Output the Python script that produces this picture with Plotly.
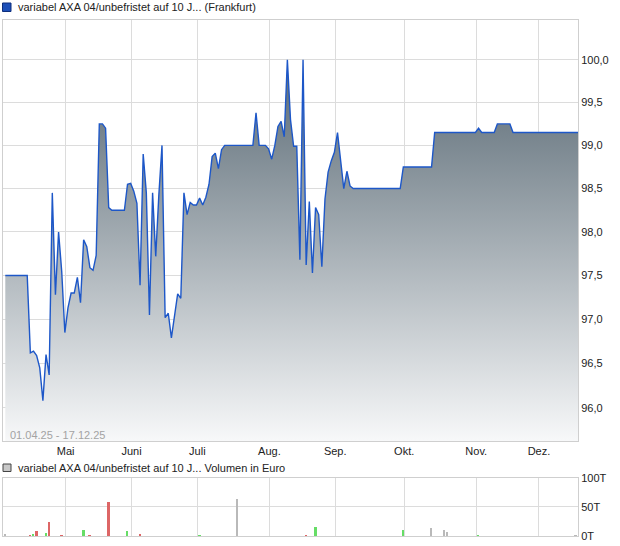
import math
import pandas as pd
import plotly.graph_objects as go

# ---------------- data ----------------
holidays = ["2025-04-18", "2025-04-21", "2025-05-01"]
trade_days = pd.bdate_range("2025-04-01", "2025-12-17", freq="C", holidays=holidays)
close_time = trade_days + pd.Timedelta(hours=17, minutes=30)

price = [
    97.50, 97.50, 97.50, 97.50, 97.50, 97.50, 97.50, 97.50,            # Apr 1-10
    96.62, 96.64, 96.59, 96.45, 96.08, 96.60, 96.37, 98.45, 97.28,     # Apr 11-25
    98.00, 97.55, 96.85,                                               # Apr 28-30
    97.13, 97.30, 97.30, 97.48, 97.19, 97.91, 97.83, 97.59, 97.56,     # May
    97.73, 99.25, 99.25, 99.20, 98.28, 98.25, 98.25, 98.25, 98.25,
    98.25, 98.55, 98.56,
    98.47, 98.33, 97.39, 98.90, 98.45, 97.05, 98.45, 97.72, 98.43,     # June
    99.00, 97.02, 97.07, 96.79, 97.07, 97.29, 97.24, 98.45, 98.20,
    98.34, 98.31, 98.31,
    98.39, 98.31, 98.40, 98.55, 98.87, 98.91, 98.73, 98.95, 99.00,     # July
    99.00, 99.00, 99.00, 99.00, 99.00, 99.00, 99.00, 99.00, 99.00,
    99.38, 99.00, 99.00, 99.00, 98.96,
    98.84, 99.00, 99.22, 99.28, 99.10, 100.00, 99.30, 98.99, 98.99,    # Aug
    97.68, 100.00, 97.62, 98.35, 97.53, 98.28, 98.20, 97.60, 98.38,
    98.69, 98.82, 98.92,
    99.15, 98.79, 98.50, 98.70, 98.53, 98.50, 98.50, 98.50, 98.50,     # Sep
    98.50, 98.50, 98.50, 98.50, 98.50, 98.50, 98.50, 98.50, 98.50,
    98.50, 98.50, 98.50, 98.75,
    98.75, 98.75, 98.75, 98.75, 98.75, 98.75, 98.75, 98.75, 98.75,     # Oct
    99.15, 99.15, 99.15, 99.15, 99.15, 99.15, 99.15, 99.15, 99.15,
    99.15, 99.15, 99.15, 99.15, 99.15,
    99.20, 99.15, 99.15, 99.15, 99.15, 99.15, 99.25, 99.25, 99.25,     # Nov
    99.25, 99.25, 99.15, 99.15, 99.15, 99.15, 99.15, 99.15, 99.15,
    99.15, 99.15,
    99.15, 99.15, 99.15, 99.15, 99.15, 99.15, 99.15, 99.15, 99.15,     # Dec
    99.15, 99.15, 99.15, 99.15,
]

vol_dates = ["2025-04-01", "2025-04-11", "2025-04-14", "2025-04-15", "2025-04-22",
             "2025-04-23", "2025-04-29", "2025-05-09", "2025-05-13", "2025-05-21",
             "2025-05-29", "2025-06-04", "2025-07-01", "2025-07-17", "2025-08-18",
             "2025-08-21", "2025-09-30", "2025-10-13", "2025-10-17", "2025-10-20",
             "2025-11-03", "2025-12-16"]
vol_values = [3.5, 2.5, 4, 8.5, 5, 24, 2.5, 10, 2.5, 58,
              8.5, 4, 2.5, 64, 2.5, 16, 10, 14, 10, 7,
              3, 2]   # thousand EUR

month_ticks = ["2025-05-02", "2025-06-02", "2025-07-01", "2025-08-01",
               "2025-09-01", "2025-10-01", "2025-11-03", "2025-12-01"]
month_labels = ["Mai", "Juni", "Juli", "Aug.", "Sep.", "Okt.", "Nov.", "Dez."]
price_ticks = [96.0, 96.5, 97.0, 97.5, 98.0, 98.5, 99.0, 99.5, 100.0]
vol_ticks = [0, 50, 100]
vol_tick_labels = ["0T", "50T", "100T"]

title_text = "variabel AXA 04/unbefristet auf 10 J... (Frankfurt)"
vol_title_text = "variabel AXA 04/unbefristet auf 10 J... Volumen in Euro"
period_text = "01.04.25 - 17.12.25"

# ---------------- styling ----------------
FONT = "Liberation Sans, Arial, sans-serif"
GRID = "#dcdcdc"
FRAME = "#cfcfcf"
TXT = "#222222"
W, H = 620, 546
ML, MR, MT, MB = 3, 42, 20, 10
PW, PH = W - ML - MR, H - MT - MB


def px_x(px):
    return (px - ML) / PW


def px_y(py):
    return (H - MB - py) / PH


pos = {d.strftime("%Y-%m-%d"): k for k, d in enumerate(trade_days)}
bar_colors = []
for d in vol_dates:
    k = pos[d]
    if k == 0 or price[k] == price[k - 1]:
        bar_colors.append("#b9b9b9")
    elif price[k] > price[k - 1]:
        bar_colors.append("#66dd66")
    else:
        bar_colors.append("#dd6666")
vol_x = [pd.Timestamp(d) + pd.Timedelta(hours=17, minutes=30) for d in vol_dates]

fig = go.Figure()
fig.add_trace(go.Scatter(
    x=close_time, y=price, mode="lines",
    line=dict(color="#1d57c8", width=1.4),
    fill="tozeroy",
    fillgradient=dict(type="vertical",
                      colorscale=[[0, "#f7f8f9"], [1, "#596974"]],
                      start=95.63, stop=100.0),
    xaxis="x", yaxis="y", showlegend=False, hoverinfo="skip"))

fig.add_trace(go.Bar(
    x=vol_x, y=vol_values, marker=dict(color=bar_colors, line=dict(width=0)),
    width=0.6 * 86400000, xaxis="x2", yaxis="y2", showlegend=False,
    hoverinfo="skip"))

rb = [dict(bounds=["sat", "mon"]), dict(values=holidays)]
xrange = ["2025-04-01 00:00", "2025-12-17 11:00"]

fig.update_layout(
    width=W, height=H,
    margin=dict(l=ML, r=MR, t=MT, b=MB),
    paper_bgcolor="white", plot_bgcolor="white",
    separators=",.",
    font=dict(family=FONT, size=11, color=TXT),
    bargap=0,
    xaxis=dict(domain=[0, 1], anchor="y", type="date", range=xrange, rangebreaks=rb,
               tickvals=month_ticks, ticktext=month_labels, ticks="",
               showgrid=True, gridcolor=GRID, gridwidth=1,
               showline=True, mirror=True, linecolor=FRAME, linewidth=1,
               zeroline=False, tickfont=dict(size=11, color=TXT)),
    yaxis=dict(domain=[px_y(441), 1], anchor="x", type="log", side="right",
               range=[math.log10(95.626), math.log10(100.467)],
               tickvals=price_ticks, tickformat=".1f", ticks="",
               showgrid=True, gridcolor=GRID, gridwidth=1,
               showline=True, mirror=True, linecolor=FRAME, linewidth=1,
               zeroline=False, tickfont=dict(size=11, color=TXT)),
    xaxis2=dict(domain=[0, 1], anchor="y2", type="date", range=xrange, rangebreaks=rb,
                matches="x", tickvals=month_ticks, showticklabels=False, ticks="",
                showgrid=True, gridcolor=GRID, gridwidth=1,
                showline=True, mirror=True, linecolor=FRAME, linewidth=1, zeroline=False),
    yaxis2=dict(domain=[0, px_y(477.7)], anchor="x2", side="right", range=[0, 100],
                tickvals=vol_ticks, ticktext=vol_tick_labels, ticks="",
                showgrid=True, gridcolor=GRID, gridwidth=1,
                showline=True, mirror=True, linecolor=FRAME, linewidth=1,
                zeroline=False, tickfont=dict(size=11, color=TXT)),
)

fig.add_annotation(text=title_text, xref="paper", yref="paper",
                   x=px_x(15.5), y=px_y(7.5), xanchor="left", yanchor="middle",
                   showarrow=False, font=dict(size=11, color=TXT))
fig.add_annotation(text=vol_title_text, xref="paper", yref="paper",
                   x=px_x(15.5), y=px_y(468), xanchor="left", yanchor="middle",
                   showarrow=False, font=dict(size=11, color=TXT))
fig.add_annotation(text=period_text, xref="paper", yref="paper",
                   x=px_x(7.5), y=px_y(434.5), xanchor="left", yanchor="middle",
                   showarrow=False, font=dict(size=11, color="#a3a3a3"))

fig.add_shape(type="rect", xref="paper", yref="paper",
              x0=px_x(2.5), x1=px_x(11), y0=px_y(11.5), y1=px_y(3),
              fillcolor="#1d4fb8", line=dict(color="#0e2f7c", width=1))
fig.add_shape(type="rect", xref="paper", yref="paper",
              x0=px_x(3), x1=px_x(11), y0=px_y(471.5), y1=px_y(464),
              fillcolor="#c8c8c8", line=dict(color="#444444", width=1))

fig.write_html("out.html",
               config={"displayModeBar": False},
               post_script="document.body.style.margin='0';document.body.style.padding='0';")
